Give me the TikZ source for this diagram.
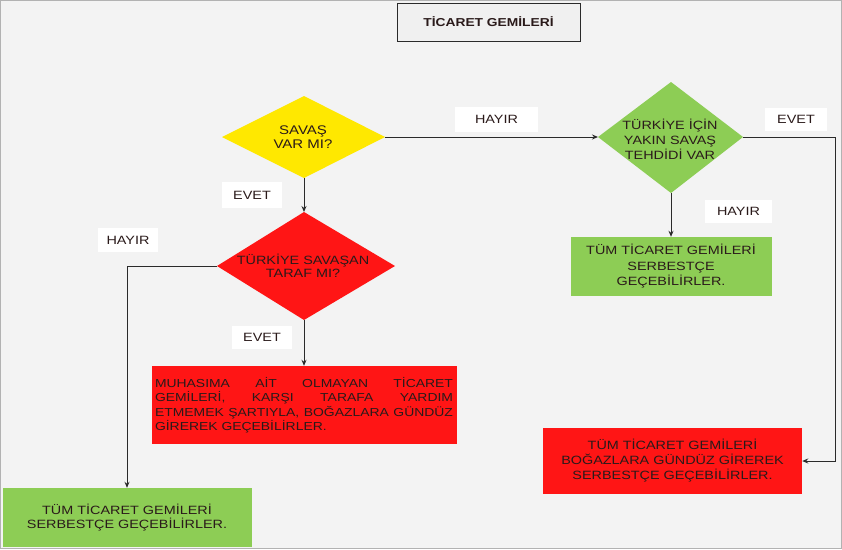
\documentclass[tikz,border=0pt]{standalone}
\usepackage{fontspec}
\setmainfont[FakeStretch=1.2]{Liberation Sans}
\usetikzlibrary{shapes.geometric,arrows.meta}
\definecolor{bg}{HTML}{F3F3F3}
\definecolor{yel}{HTML}{FFE800}
\definecolor{grn}{HTML}{8DCD55}
\definecolor{rd}{HTML}{FF1515}
\definecolor{ln}{HTML}{2A2A2A}
\definecolor{txt}{HTML}{2A1A1A}
\tikzset{
  every node/.style={font=\fontsize{12}{14}\selectfont, text=txt, inner sep=0pt},
  boxc/.style={draw=none, align=center},
  lbl/.style={fill=white, align=center},
  conn/.style={draw=ln, line width=1pt, -{Stealth[length=6pt,width=5pt]}},
}
\newcommand{\jline}[1]{\makebox[298pt][l]{#1}}
\newcommand{\jsp}{\hskip 2.5pt plus 1fill\relax}
\begin{document}
\begin{tikzpicture}[x=1pt,y=-1pt]
\fill[bg] (0,0) rectangle (842,549);
\draw[gray!60, line width=0.6pt] (0.5,0.5) rectangle (841.5,548.5);
\useasboundingbox (0,0) rectangle (842,549);
% title
\node[draw=ln, line width=0.9pt, fill=gray!12, minimum width=183pt, minimum height=38pt, font=\bfseries\fontsize{11.5}{14}\selectfont] (title) at (488.5,22) {TİCARET GEMİLERİ};
% yellow diamond
\fill[yel] (222,137) -- (304,96) -- (385,137) -- (304,178) -- cycle;
\coordinate (yL) at (222,137); \coordinate (yR) at (385,137);
\coordinate (yB) at (304,178);
\node[align=center, font=\fontsize{12.5}{14}\selectfont] (yt) at (303,137) {SAVAŞ\\VAR MI?};
% green diamond
\fill[grn] (598,137) -- (671,82) -- (743,137) -- (671,193) -- cycle;
\coordinate (gL) at (598,137); \coordinate (gR) at (743,137);
\coordinate (gB) at (671,193);
\node[align=center, font=\fontsize{12}{15}\selectfont] (gt) at (670,139) {TÜRKİYE İÇİN\\YAKIN SAVAŞ\\TEHDİDİ VAR};
% red diamond
\fill[rd] (217,266) -- (304,212) -- (395,266) -- (304,320) -- cycle;
\coordinate (rL) at (217,266); \coordinate (rT) at (304,212);
\coordinate (rB) at (304,320);
\node[align=center, font=\fontsize{12}{12.5}\selectfont] (rt) at (303,266) {TÜRKİYE SAVAŞAN\\TARAF MI?};
% boxes
\node[boxc, fill=grn, minimum width=201pt, minimum height=59pt, font=\fontsize{12}{15.5}\selectfont] (g1) at (671,266.5) {TÜM TİCARET GEMİLERİ\\SERBESTÇE\\GEÇEBİLİRLER.};
\node[boxc, fill=rd, minimum width=259pt, minimum height=66pt, font=\fontsize{12}{15}\selectfont] (r2) at (672.5,461) {TÜM TİCARET GEMİLERİ\\BOĞAZLARA GÜNDÜZ GİREREK\\SERBESTÇE GEÇEBİLİRLER.};
\node[fill=rd, minimum width=305pt, minimum height=78pt, text width=298pt, align=left, font=\fontsize{11.6}{14.5}\selectfont] (r1) at (304,405) {%
\jline{MUHASIMA\jsp AİT\jsp OLMAYAN\jsp TİCARET}\\
\jline{GEMİLERİ,\jsp KARŞI\jsp TARAFA\jsp YARDIM}\\
\jline{ETMEMEK\jsp ŞARTIYLA,\jsp BOĞAZLARA\jsp GÜNDÜZ}\\
GİREREK GEÇEBİLİRLER.};
\node[boxc, fill=grn, minimum width=249pt, minimum height=59pt, font=\fontsize{12}{14}\selectfont] (g2) at (127,517.5) {TÜM TİCARET GEMİLERİ\\SERBESTÇE GEÇEBİLİRLER.};
% labels
\node[lbl, minimum width=83pt, minimum height=25pt] (l1) at (496.5,119.5) {HAYIR};
\node[lbl, minimum width=62pt, minimum height=23pt] (l2) at (796,119) {EVET};
\node[lbl, minimum width=67pt, minimum height=23pt] (l3) at (738.5,211.5) {HAYIR};
\node[lbl, minimum width=60pt, minimum height=26pt] (l4) at (252,195) {EVET};
\node[lbl, minimum width=60pt, minimum height=23pt] (l5) at (262,337) {EVET};
\node[lbl, minimum width=60pt, minimum height=24pt] (l6) at (128,240) {HAYIR};
% connectors
\draw[conn] (yR) -- (gL);
\draw[conn] (yB) -- (rT);
\draw[conn] (rB) -- (r1.north);
\draw[conn] (gB) -- (g1.north);
\draw[conn] (gR) -- (835,137) |- (r2.east);
\draw[conn] (rL) -| (g2.north);
\end{tikzpicture}
\end{document}
